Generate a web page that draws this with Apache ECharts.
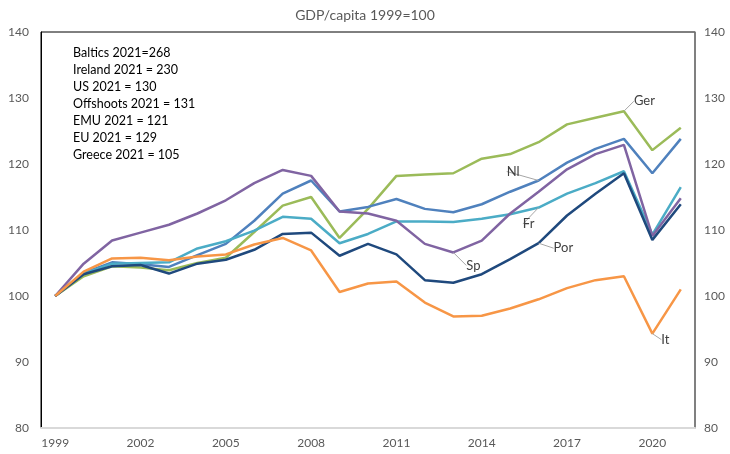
<!DOCTYPE html>
<html>
<head>
<meta charset="utf-8">
<script src="https://cdn.jsdelivr.net/npm/echarts@6/dist/echarts.min.js"></script>
<style>
  html, body { margin: 0; padding: 0; background: #fff; }
  #chart { width: 730px; height: 454px; }
</style>
</head>
<body>
<div id="chart"></div>
<script>
// GDP per capita, index 1999 = 100
const years = ["1999","2000","2001","2002","2003","2004","2005","2006","2007","2008","2009",
  "2010","2011","2012","2013","2014","2015","2016","2017","2018","2019","2020","2021"];

const ger = [100, 103.0, 104.5, 104.3, 103.9, 105.0, 105.8, 109.7, 113.7, 115.0, 108.8,
  113.2, 118.2, 118.4, 118.6, 120.8, 121.5, 123.3, 126.0, 127.0, 128.0, 122.1, 125.5];
const nl = [100, 103.5, 105.1, 104.8, 104.4, 106.2, 107.9, 111.4, 115.5, 117.5, 112.8,
  113.5, 114.7, 113.2, 112.7, 113.9, 115.8, 117.5, 120.2, 122.3, 123.8, 118.6, 123.8];
const fr = [100, 103.4, 104.9, 105.0, 105.1, 107.2, 108.3, 109.9, 112.0, 111.7, 108.0,
  109.4, 111.3, 111.3, 111.2, 111.7, 112.4, 113.4, 115.5, 117.1, 118.9, 109.3, 116.5];
const sp = [100, 104.9, 108.4, 109.6, 110.8, 112.5, 114.5, 117.1, 119.1, 118.2, 112.8,
  112.5, 111.4, 107.9, 106.6, 108.4, 112.5, 115.8, 119.2, 121.5, 122.9, 109.1, 114.8];
const por = [100, 103.3, 104.5, 104.7, 103.4, 104.9, 105.5, 107.0, 109.4, 109.6, 106.1,
  107.9, 106.3, 102.4, 102.0, 103.3, 105.6, 108.0, 112.2, 115.5, 118.6, 108.5, 113.9];
const it = [100, 103.7, 105.7, 105.8, 105.4, 106.0, 106.3, 107.8, 108.8, 106.9, 100.6,
  101.9, 102.2, 99.0, 96.9, 97.0, 98.1, 99.5, 101.2, 102.4, 103.0, 94.3, 101.0];

const notes = ["Baltics 2021=268", "Ireland 2021 = 230", "US 2021 = 130",
  "Offshoots 2021 = 131", "EMU 2021 = 121", "EU 2021 = 129", "Greece 2021 = 105"];

// name, data, colour, labelled year index, label side, shift
const lines = [
  ["Ger", ger, "#9BBB59", 20, "right", [5, -10]],
  ["Nl", nl, "#4F81BD", 17, "left", [-14, -9]],
  ["Fr", fr, "#4BACC6", 17, "bottom", [-10, 5]],
  ["Sp", sp, "#8064A2", 14, "right", [8, 13]],
  ["Por", por, "#1F497D", 17, "right", [10, 5]],
  ["It", it, "#F79646", 21, "right", [4, 6]]
];

const chart = echarts.init(document.getElementById("chart"));

const series = lines.map(([name, vals, color, idx, side, shift]) => ({
  name: name,
  type: "line",
  data: vals.map((v, i) => i === idx ? {
    value: v,
    label: {
      show: true,
      formatter: name,
      position: side,
      distance: 5,
      color: "#404040",
      fontSize: 13,
      fontFamily: "Lato"
    }
  } : v),
  symbol: "circle",
  symbolSize: 0,
  showSymbol: true,
  lineStyle: { color: color, width: 2.5 },
  itemStyle: { color: color },
  labelLayout: { dx: shift[0], dy: shift[1] },
  labelLine: { show: true, length2: 4, lineStyle: { color: "#a6a6a6", width: 1 } },
  emphasis: { disabled: true },
  z: 2
}));

chart.setOption({
  animation: false,
  title: {
    text: "GDP/capita 1999=100",
    left: "center",
    top: 3,
    textStyle: { fontSize: 14, fontWeight: "normal", color: "#595959", fontFamily: "Lato" }
  },
  grid: {
    left: 41, right: 35, top: 32, bottom: 26,
    show: true, borderColor: "#000", borderWidth: 1
  },
  xAxis: {
    type: "category",
    data: years,
    boundaryGap: true,
    axisLine: { lineStyle: { color: "#d9d9d9", width: 2 } },
    axisTick: { show: false },
    axisLabel: { interval: 2, color: "#595959", fontSize: 12, fontFamily: "Lato", margin: 9 },
    splitLine: { show: false }
  },
  yAxis: [
    {
      type: "value", min: 80, max: 140, interval: 10, position: "left",
      axisLine: { show: true, lineStyle: { color: "#000", width: 1 } },
      axisTick: { show: false },
      axisLabel: { color: "#595959", fontSize: 12, fontFamily: "Lato", margin: 12 },
      splitLine: { show: false }
    },
    {
      type: "value", min: 80, max: 140, interval: 10, position: "right",
      axisLine: { show: true, lineStyle: { color: "#808080", width: 1.5 } },
      axisTick: { show: false },
      axisLabel: { color: "#595959", fontSize: 12, fontFamily: "Lato", margin: 9 },
      splitLine: { show: false }
    }
  ],
  graphic: [{
    type: "text",
    left: 73,
    top: 44,
    style: {
      text: notes.join("\n"),
      fontSize: 12.5,
      lineHeight: 17,
      fontFamily: "Lato",
      fill: "#000"
    }
  }],
  series: series
});
</script>
</body>
</html>
